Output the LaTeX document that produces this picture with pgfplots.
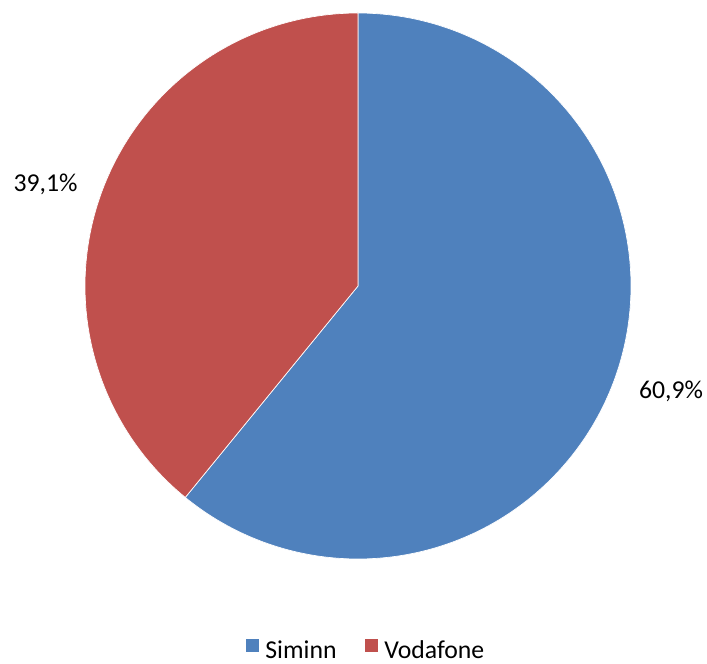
\documentclass[border=0pt]{standalone}
\usepackage{fontspec}
\setmainfont{Carlito}
\usepackage{pgfplots}
\pgfplotsset{compat=1.18}
\definecolor{sblue}{RGB}{79,129,189}
\definecolor{sred}{RGB}{192,80,77}
\newcommand{\lblfont}{\fontsize{19.3}{23}\selectfont}
\begin{document}
\begin{tikzpicture}
\begin{axis}[
  scale only axis, width=530.25pt, height=498pt,
  xmin=-358, xmax=349, ymin=-378, ymax=286,
  hide axis, clip=false,
  legend columns=2,
  legend image code/.code={\fill[#1] (0pt,-1pt) rectangle (10.5pt,9.5pt);},
  legend style={draw=none, fill=none, inner sep=0pt, outer sep=0pt,
    at={(axis cs:6.5,-375)}, anchor=south,
    nodes={inner sep=0pt, font=\lblfont},
    /tikz/every odd column/.append style={column sep=4.5pt},
    /tikz/every even column/.append style={column sep=20.25pt}},
]
\addplot[fill=sblue, draw=white, line width=0.5pt, domain={90-3.6*60.9}:90, samples=300, variable=\t]
  ({273*cos(t)},{273*sin(t)}) -- (0,0) -- cycle;
\addlegendentry{Siminn}
\addplot[fill=sred, draw=white, line width=0.5pt, domain=90:{90+3.6*39.1}, samples=300, variable=\t]
  ({273*cos(t)},{273*sin(t)}) -- (0,0) -- cycle;
\addlegendentry{Vodafone}
\node[font=\lblfont, inner sep=0pt, anchor=base] at (axis cs:-312.5,94) {39,1\%};
\node[font=\lblfont, inner sep=0pt, anchor=base] at (axis cs:313,-113) {60,9\%};
\coordinate (bl) at (rel axis cs:0,0);
\coordinate (tr) at (rel axis cs:1,1);
\end{axis}
\pgfresetboundingbox
\path (bl) rectangle (tr);
\end{tikzpicture}
\end{document}
